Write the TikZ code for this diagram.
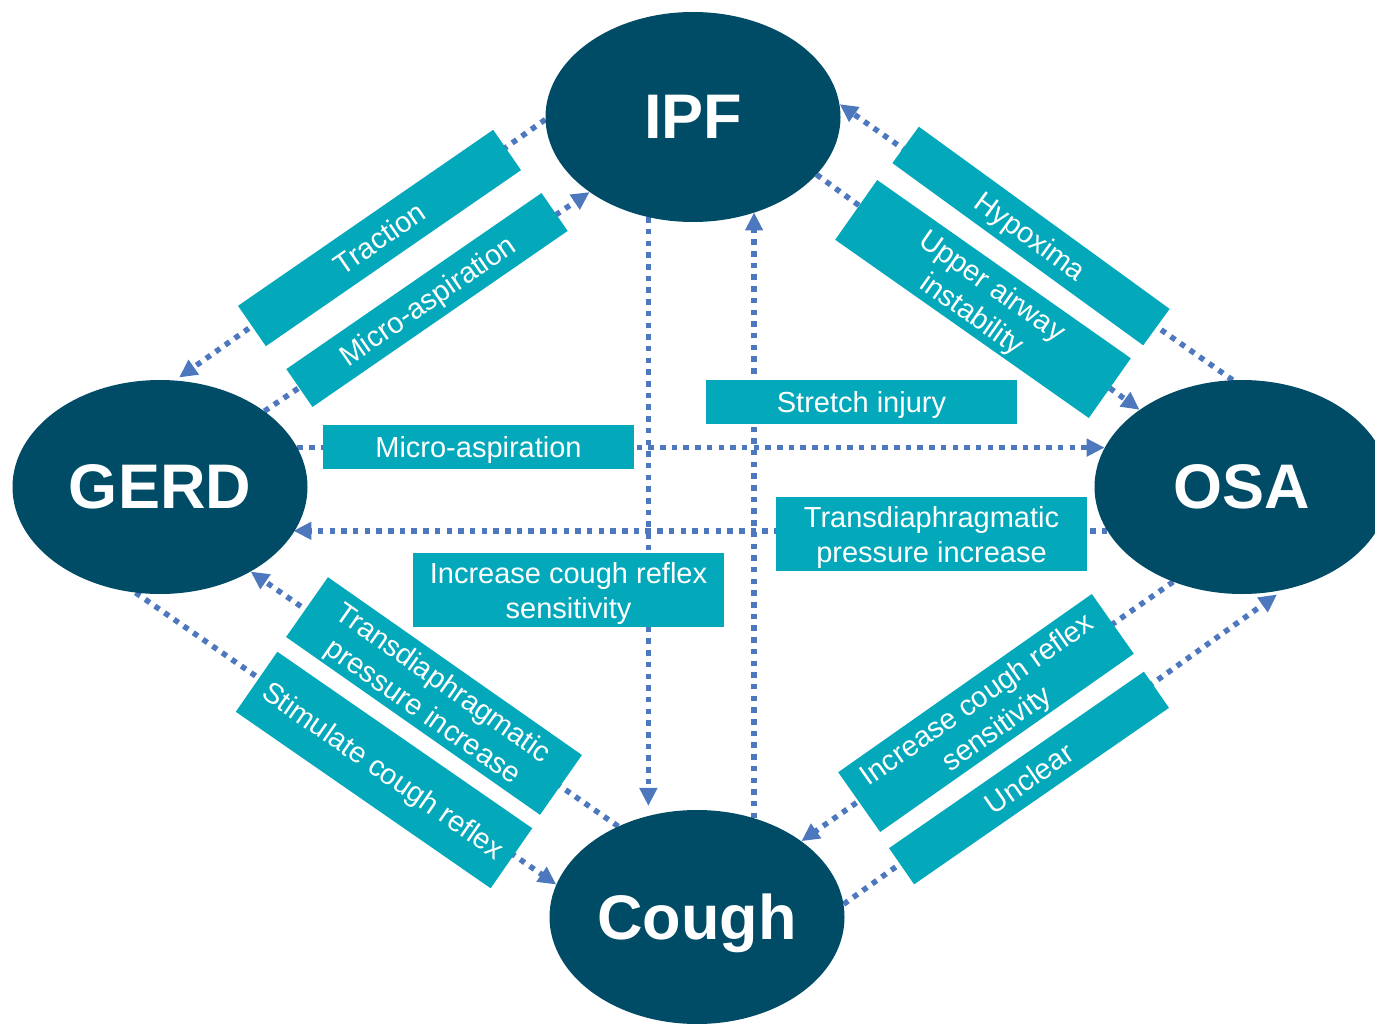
\documentclass[tikz,border=0pt]{standalone}
\usepackage{fontspec}
\setmainfont{Liberation Sans}
\usetikzlibrary{shapes.geometric,arrows.meta,backgrounds}
\definecolor{hubfill}{HTML}{004C66}
\definecolor{tagfill}{HTML}{03A9BA}
\definecolor{linkcol}{HTML}{4E78BE}
\begin{document}
\begin{tikzpicture}[x=1pt,y=-1pt,
  hub/.style={ellipse, fill=hubfill, text=white, inner sep=0pt,
    minimum width=295pt, minimum height=214pt, text depth=0pt,
    font=\fontsize{63}{70}\selectfont\bfseries},
  tag/.style={fill=tagfill, text=white, inner sep=0pt, minimum width=310pt,
    align=center, text depth=0pt, font=\fontsize{29}{35}\selectfont},
  link/.style={draw=linkcol, line width=5.5pt, dash pattern=on 5.5pt off 6.2pt,
    -{Triangle[length=18pt,width=17pt]}},
]
\useasboundingbox (0,0) rectangle (1375,1024);

% the four conditions
\node[hub, minimum height=210pt] (IPF) at (693,117) {IPF};
\node[hub] (GERD) at (160,487) {GERD};
\node[hub] (OSA) at (1242,487) {OSA};
\node[hub] (Cough) at (697,917) {Cough};

% mechanism labels
\node[tag, minimum height=49pt, rotate=34.6] (tTraction) at (379.5,238) {Traction};
\node[tag, minimum height=46pt, rotate=34.6] (tMicroA) at (427,300) {Micro-aspiration};
\node[tag, minimum height=45pt, rotate=-36] (tHypox) at (1031,236) {Hypoxima};
\node[tag, minimum height=73pt, rotate=-35.1] (tUpper) at (983,299) {Upper airway\\instability};
\node[tag, minimum height=44pt, minimum width=311pt] (tStretch) at (861.5,402) {Stretch injury};
\node[tag, minimum height=44pt, minimum width=311pt] (tMicroB) at (478.5,447) {Micro-aspiration};
\node[tag, minimum height=74pt, minimum width=311pt] (tTransA) at (931.5,534) {Transdiaphragmatic\\pressure increase};
\node[tag, minimum height=74pt, minimum width=311pt] (tCoughA) at (568.5,590) {Increase cough reflex\\sensitivity};
\node[tag, minimum height=73pt, rotate=-35] (tTransB) at (434,696) {Transdiaphragmatic\\pressure increase};
\node[tag, minimum height=73pt, rotate=-34.7] (tStim) at (384,770) {Stimulate cough reflex};
\node[tag, minimum height=73pt, rotate=35.1] (tCoughB) at (986,713) {Increase cough reflex\\sensitivity};
\node[tag, minimum height=44pt, rotate=34.7] (tUnclear) at (1029,778) {Unclear};

% dotted links run underneath the nodes
\begin{scope}[on background layer]
  \fill[white] (0,0) rectangle (1375,1024);
  \draw[link, shorten >=5pt] (IPF.181) -- (GERD.82);
  \draw[link] (GERD.36) -- (IPF.216);
  \draw[link] (OSA.95) -- (IPF.5);
  \draw[link] (IPF.-25) -- (OSA.143);
  \draw[link] (GERD.16) -- (GERD.16 -| OSA.164);
  \draw[link] (OSA.198) -- (OSA.198 -| GERD.-19);
  \draw[link, shorten >=10pt] (IPF.246) -- (IPF.246 |- Cough.116);
  \draw[link] (Cough.60) -- (Cough.60 |- IPF.-57);
  \draw[link] (Cough.131) -- (GERD.-43);
  \draw[link] (GERD.257) -- (Cough.167);
  \draw[link] (OSA.234) -- (Cough.36);
  \draw[link, shorten >=8pt] (Cough.5) -- (OSA.-68);
\end{scope}
\end{tikzpicture}
\end{document}
